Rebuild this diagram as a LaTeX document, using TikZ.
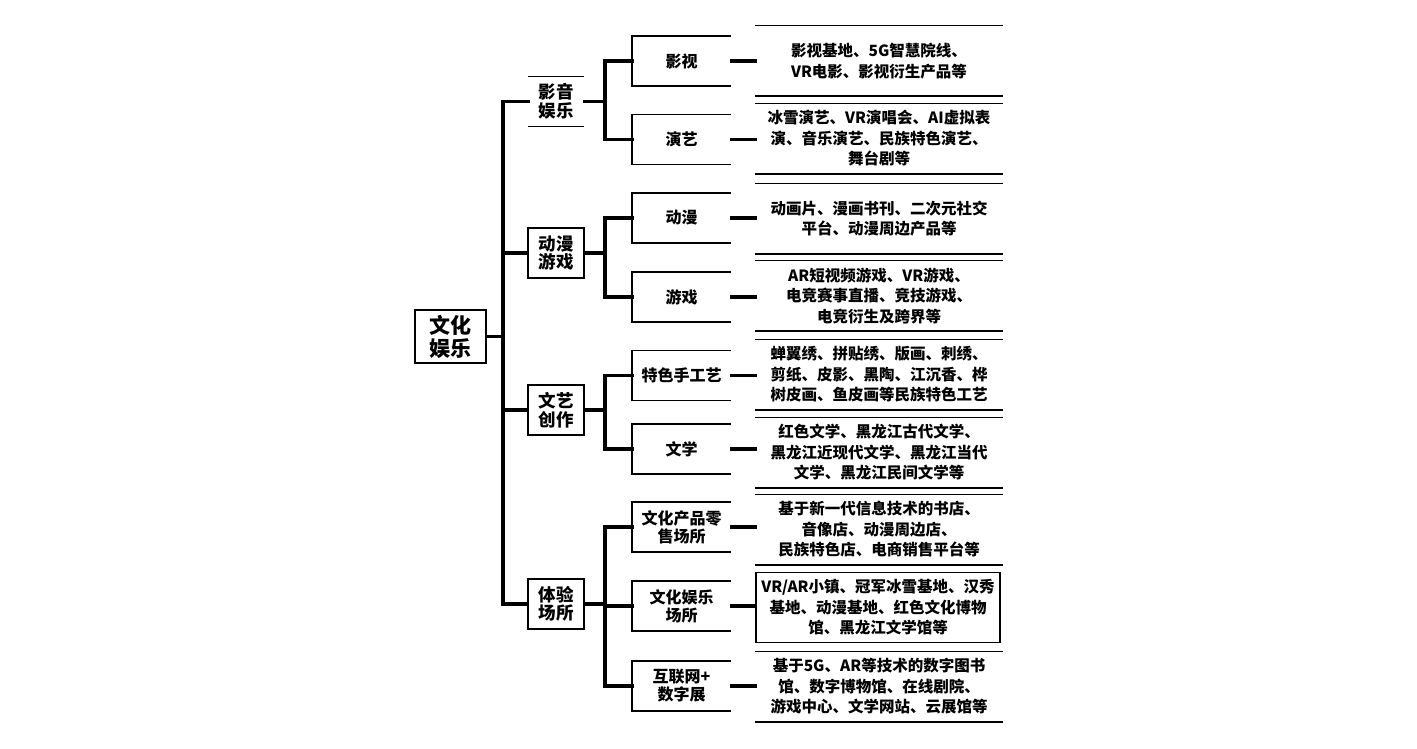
\documentclass[tikz,border=0pt]{standalone}
\usepackage{fontspec}
\newfontfamily\cjk{Noto Sans CJK SC}
\begin{document}
\begin{tikzpicture}[x=1pt,y=-1pt,
  conn/.style={line width=3.4pt,line join=miter,line cap=rect},
  edge/.style={line width=1.5pt},
  thinedge/.style={line width=1.2pt},
  thickedge/.style={line width=2pt},
  rootbox/.style={draw,line width=1.5pt,minimum width=71pt,minimum height=53pt,inner sep=0pt,align=center,font=\cjk\bfseries\fontsize{21}{23}\selectfont},
  lonebox/.style={minimum width=56pt,minimum height=50pt,inner sep=0pt,align=center,font=\cjk\bfseries\fontsize{17.5}{18.5}\selectfont},
  ltwobox/.style={minimum width=99pt,minimum height=50pt,inner sep=0pt,align=center,font=\cjk\bfseries\fontsize{16}{18}\selectfont},
  lthreebox/.style={minimum width=248pt,minimum height=70pt,inner sep=0pt,align=center,font=\cjk\bfseries\fontsize{15.5}{20.5}\selectfont}
]
\useasboundingbox (0,0) rectangle (1417,749);
\fill[white] (0,0) rectangle (1417,749);

% root
\node[rootbox] (root) at (450.5,336.5) {文化\\娱乐};

% level 1
\node[lonebox] (ya) at (556,101.5) {影音\\娱乐};
\node[lonebox,draw,line width=1.5pt] (yb) at (556,253) {动漫\\游戏};
\node[lonebox,draw,line width=1.5pt] (yc) at (556,410) {文艺\\创作};
\node[lonebox,draw,line width=1.5pt] (yd) at (556,604) {体验\\场所};
\draw[edge] (ya.north west) -- (ya.north east);
\draw[edge] (ya.south west) -- (ya.south east);

% level 2
\node[ltwobox] (ys) at (681.5,61) {影视};
\node[ltwobox] (yy) at (681.5,139.5) {演艺};
\node[ltwobox] (dm) at (681.5,218) {动漫};
\node[ltwobox] (yx) at (681.5,297) {游戏};
\node[ltwobox] (sg) at (681.5,375.5) {特色手工艺};
\node[ltwobox] (wx) at (681.5,449) {文学};
\node[ltwobox] (ls) at (681.5,527) {文化产品零\\售场所};
\node[ltwobox] (yl) at (681.5,606) {文化娱乐\\场所};
\node[ltwobox] (hl) at (681.5,686) {互联网+\\数字展};
\foreach \n in {ys,yy,dm,yx,sg,wx,ls,yl,hl}{
  \draw[edge] (\n.north east) -- (\n.north west) -- (\n.south west) -- (\n.south east);
}

% level 3
\node[lthreebox] (ta) at (879,61) {影视基地、5G智慧院线、\\VR电影、影视衍生产品等};
\node[lthreebox] (tb) at (879,138.5) {冰雪演艺、VR演唱会、AI虚拟表\\演、音乐演艺、民族特色演艺、\\舞台剧等};
\node[lthreebox] (tc) at (879,218.5) {动画片、漫画书刊、二次元社交\\平台、动漫周边产品等};
\node[lthreebox] (td) at (879,296) {AR短视频游戏、VR游戏、\\电竞赛事直播、竞技游戏、\\电竞衍生及跨界等};
\node[lthreebox] (te) at (879,374.5) {蝉翼绣、拼贴绣、版画、刺绣、\\剪纸、皮影、黑陶、江沉香、桦\\树皮画、鱼皮画等民族特色工艺};
\node[lthreebox] (tf) at (879,452.5) {红色文学、黑龙江古代文学、\\黑龙江近现代文学、黑龙江当代\\文学、黑龙江民间文学等};
\node[lthreebox] (tg) at (879,529.5) {基于新一代信息技术的书店、\\音像店、动漫周边店、\\民族特色店、电商销售平台等};
\node[lthreebox,draw,line width=1.5pt,minimum width=244pt] (th) at (878,607.5) {VR/AR小镇、冠军冰雪基地、汉秀\\基地、动漫基地、红色文化博物\\馆、黑龙江文学馆等};
\node[lthreebox] (ti) at (879,686.5) {基于5G、AR等技术的数字图书\\馆、数字博物馆、在线剧院、\\游戏中心、文学网站、云展馆等};
\foreach \n in {ta,tb,tc,td,te,tf,tg,ti}{
  \draw[thinedge] (\n.north west) -- (\n.north east);
  \draw[thickedge] (\n.south west) -- (\n.south east);
}

% trunk
\coordinate (tr) at (503,336.5);
\draw[conn] (root.east) -- (tr);
\draw[conn] (ya.west) -| (tr) |- (yd.west);
\draw[conn] (yb.west) -- (yb.west -| tr);
\draw[conn] (yc.west) -- (yc.west -| tr);

% branches
\coordinate (ba) at (605,101.5);
\draw[conn] (ya.east) -- (ba);
\draw[conn] (ys.west) -| (ba) |- (yy.west);
\coordinate (bb) at (605,253);
\draw[conn] (yb.east) -- (bb);
\draw[conn] (dm.west) -| (bb) |- (yx.west);
\coordinate (bc) at (605,410);
\draw[conn] (yc.east) -- (bc);
\draw[conn] (sg.west) -| (bc) |- (wx.west);
\coordinate (bd) at (605,604);
\draw[conn] (yd.east) -- (bd);
\draw[conn] (ls.west) -| (bd) |- (hl.west);
\draw[conn] (yl.west) -- (yl.west -| bd);

% leaves
\draw[conn] (ys.east) -- (ys.east -| ta.west);
\draw[conn] (yy.east) -- (yy.east -| tb.west);
\draw[conn] (dm.east) -- (dm.east -| tc.west);
\draw[conn] (yx.east) -- (yx.east -| td.west);
\draw[conn] (sg.east) -- (sg.east -| te.west);
\draw[conn] (wx.east) -- (wx.east -| tf.west);
\draw[conn] (ls.east) -- (ls.east -| tg.west);
\draw[conn] (yl.east) -- (yl.east -| th.west);
\draw[conn] (hl.east) -- (hl.east -| ti.west);
\end{tikzpicture}
\end{document}
